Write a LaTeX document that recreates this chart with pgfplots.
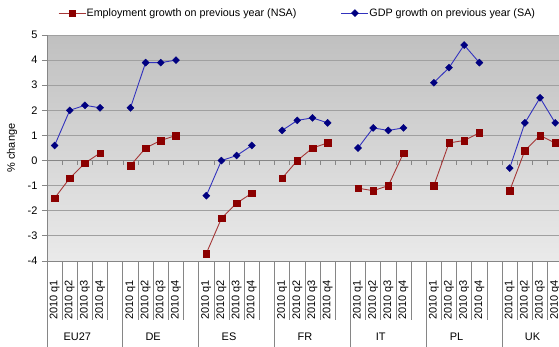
\documentclass[border=0pt]{standalone}
\usepackage{pgfplots}
\pgfplotsset{compat=1.18}
\usepackage{fontspec}
\setmainfont{Liberation Sans}
\definecolor{empline}{RGB}{165,55,55}
\definecolor{empmark}{RGB}{139,0,0}
\definecolor{gdpline}{RGB}{50,50,190}
\definecolor{gdpmark}{RGB}{0,0,128}
\definecolor{gridc}{RGB}{160,160,160}
\definecolor{axc}{RGB}{134,134,134}
\definecolor{bgtop}{RGB}{192,192,192}
\definecolor{bgbot}{RGB}{234,234,234}
\begin{document}
\begin{tikzpicture}
\begin{axis}[
  at={(47bp,86bp)}, anchor=south west,
  scale only axis, width=512bp, height=226bp,
  xmin=-0.5, xmax=33.25, ymin=-4, ymax=5,
  clip=false,
  axis lines*=left,
  axis line style={-, draw=axc, line width=0.8pt},
  axis background/.style={top color=bgtop, bottom color=bgbot},
  ymajorgrids, grid style={gridc, line width=0.8pt},
  ytick={-4,-3,...,5},
  tick align=outside, major tick length=5bp,
  ytick style={draw=axc, line width=0.8pt},
  xtick style={draw=none},
  /pgf/number format/assume math mode=true,
  tick label style={font=\fontsize{11}{13}\selectfont},
  yticklabel style={xshift=-1bp},
  xtick={0,1,2,3,5,6,7,8,10,11,12,13,15,16,17,18,20,21,22,23,25,26,27,28,30,31,32,33},
  xticklabels={2010 q1,2010 q2,2010 q3,2010 q4,2010 q1,2010 q2,2010 q3,2010 q4,2010 q1,2010 q2,2010 q3,2010 q4,2010 q1,2010 q2,2010 q3,2010 q4,2010 q1,2010 q2,2010 q3,2010 q4,2010 q1,2010 q2,2010 q3,2010 q4,2010 q1,2010 q2,2010 q3,2010 q4},
  xticklabel style={yshift=-14bp, rotate=90, anchor=east, inner sep=0pt},
  extra x ticks={1.5,6.5,11.5,16.5,21.5,26.5,31.5},
  extra x tick labels={EU27,DE,ES,FR,IT,PL,UK},
  extra x tick style={xticklabel style={rotate=-90, anchor=center, yshift=-57bp}},
  ylabel={\% change},
  ylabel style={at={(axis description cs:-0.0684,0.5)}, anchor=center, font=\fontsize{11}{13}\selectfont},
  unbounded coords=jump,
  legend columns=2,
  legend style={at={(axis description cs:0.0215,1.097)}, anchor=west, draw=none, fill=none,
    inner xsep=0pt, inner ysep=0pt, nodes={inner sep=0.5pt},
    font=\fontsize{10.8}{13}\selectfont,
    /tikz/every even column/.append style={column sep=44bp}},
  legend image code/.code={\draw[mark repeat=2,mark phase=2,#1] plot coordinates {(0bp,0bp) (13.5bp,0bp) (27bp,0bp)};},
]
% zero line with category ticks
\draw[axc, line width=0.8pt] (axis cs:-0.5,0) -- (axis cs:33.25,0);
\pgfplotsinvokeforeach{0.5,1.5,2.5,3.5,4.5,5.5,6.5,7.5,8.5,9.5,10.5,11.5,12.5,13.5,14.5,15.5,16.5,17.5,18.5,19.5,20.5,21.5,22.5,23.5,24.5,25.5,26.5,27.5,28.5,29.5,30.5,31.5,32.5}{
  \draw[axc, line width=0.6pt] (axis cs:#1,0) -- ([yshift=-4bp]axis cs:#1,0);
}
% category separators below the axis
\pgfplotsinvokeforeach{0.5,1.5,2.5,3.5,5.5,6.5,7.5,8.5,10.5,11.5,12.5,13.5,15.5,16.5,17.5,18.5,20.5,21.5,22.5,23.5,25.5,26.5,27.5,28.5,30.5,31.5,32.5}{
  \draw[axc, line width=0.6pt] (axis cs:#1,-4) -- ([yshift=-59bp]axis cs:#1,-4);
}
\pgfplotsinvokeforeach{-0.5,4.5,9.5,14.5,19.5,24.5,29.5}{
  \draw[axc, line width=0.8pt] (axis cs:#1,-4) -- ([yshift=-90bp]axis cs:#1,-4);
}
\addplot[empline, line width=0.9pt, mark=square*, mark size=3.3pt,
  mark options={draw=empmark, fill=empmark, line width=0.4pt}]
  coordinates {
  (0,-1.5) (1,-0.7) (2,-0.1) (3,0.3) (4,nan)
  (5,-0.2) (6,0.5) (7,0.8) (8,1.0) (9,nan)
  (10,-3.7) (11,-2.3) (12,-1.7) (13,-1.3) (14,nan)
  (15,-0.7) (16,0.0) (17,0.5) (18,0.7) (19,nan)
  (20,-1.1) (21,-1.2) (22,-1.0) (23,0.3) (24,nan)
  (25,-1.0) (26,0.7) (27,0.8) (28,1.1) (29,nan)
  (30,-1.2) (31,0.4) (32,1.0) (33,0.7)
  };
\addlegendentry{Employment growth on previous year (NSA)}
\addplot[gdpline, line width=0.9pt, mark=square*, mark size=2.5pt,
  mark options={rotate=45, draw=gdpmark, fill=gdpmark, line width=0.4pt}]
  coordinates {
  (0,0.6) (1,2.0) (2,2.2) (3,2.1) (4,nan)
  (5,2.1) (6,3.9) (7,3.9) (8,4.0) (9,nan)
  (10,-1.4) (11,0.0) (12,0.2) (13,0.6) (14,nan)
  (15,1.2) (16,1.6) (17,1.7) (18,1.5) (19,nan)
  (20,0.5) (21,1.3) (22,1.2) (23,1.3) (24,nan)
  (25,3.1) (26,3.7) (27,4.6) (28,3.9) (29,nan)
  (30,-0.3) (31,1.5) (32,2.5) (33,1.5)
  };
\addlegendentry{GDP growth on previous year (SA)}
\end{axis}
\pgfresetboundingbox
\path[use as bounding box] (0,0) rectangle (559bp,347bp);
\end{tikzpicture}
\end{document}
